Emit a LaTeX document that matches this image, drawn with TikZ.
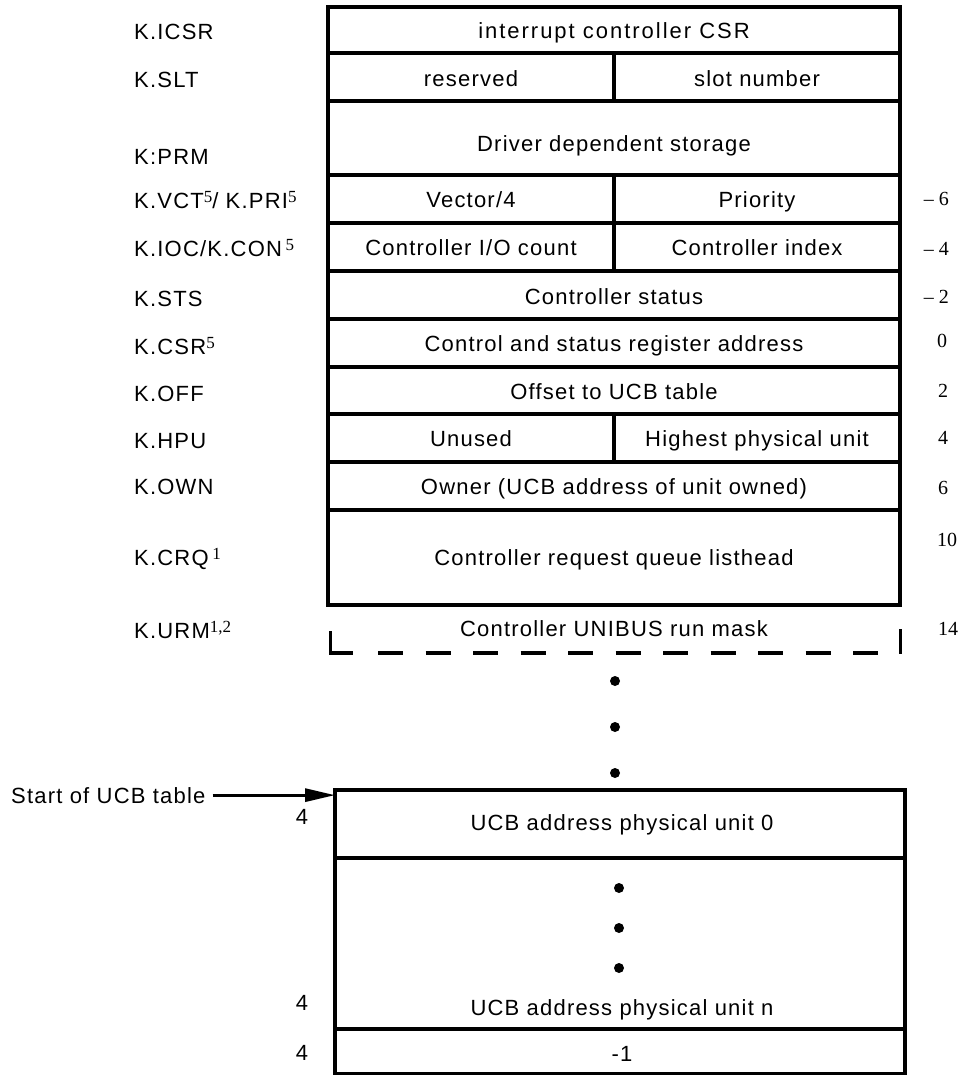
\documentclass[tikz,border=0pt]{standalone}
\usepackage{fontspec}
\setmainfont{Liberation Sans}
\newfontfamily\txtfont[LetterSpace=5.5]{Liberation Sans}
\newfontfamily\widefont[LetterSpace=9]{Liberation Sans}
\newfontfamily\numfont{Liberation Serif}
\usetikzlibrary{arrows.meta}
% raised serif index after a field symbol
\newcommand{\supnum}[1]{\raisebox{6pt}{\numfont\fontsize{17}{17}\selectfont #1}}

\begin{document}
\begin{tikzpicture}[x=1pt,y=-1pt,
  frame/.style={line width=3.4pt},
  cell/.style={anchor=base,inner sep=0pt,font=\txtfont\fontsize{22}{25}\selectfont},
  lab/.style={anchor=base west,inner sep=0pt,font=\txtfont\fontsize{22}{25}\selectfont},
  off/.style={anchor=base,inner sep=0pt,font=\numfont\fontsize{20}{23}\selectfont},
  offe/.style={anchor=base east,inner sep=0pt,font=\numfont\fontsize{20}{23}\selectfont},
  dot/.style={fill=black},
  arr/.style={line width=3pt,-{Triangle[length=30pt,width=13pt]}}]

\fill[white] (0,0) rectangle (963,1076);
\useasboundingbox (0,0) rectangle (963,1076);

% controller table block
\draw[frame] (328,7) rectangle (900,605);
\foreach \yy in {53,101,175,223,271,319,367,414,462,510}
  \draw[frame] (328,\yy) -- (900,\yy);
\draw[frame] (614,53) -- (614,101);
\draw[frame] (614,175) -- (614,271);
\draw[frame] (614,414) -- (614,462);

% optional UNIBUS run mask word
\draw[frame] (330.7,631) -- (330.7,653) -- (353,653);
\draw[frame,dash pattern=on 25pt off 22.5pt] (378,653) -- (878,653);
\draw[frame] (900.7,629) -- (900.7,654);

% field contents
\node[cell,font=\widefont\fontsize{22}{25}\selectfont] (icsr) at (614,38) {interrupt controller CSR};
\node[cell] (resv) at (471,86) {reserved};
\node[cell] (slot) at (757,86) {slot number};
\node[cell] (drv)  at (614,151) {Driver dependent storage};
\node[cell] (vec)  at (471,207) {Vector/4};
\node[cell] (pri)  at (757,207) {Priority};
\node[cell] (ioc)  at (471,255) {Controller I/O count};
\node[cell] (cidx) at (757,255) {Controller index};
\node[cell] (sts)  at (614,304) {Controller status};
\node[cell] (csr)  at (614,351) {Control and status register address};
\node[cell] (offs) at (614,399) {Offset to UCB table};
\node[cell] (unu)  at (471,446) {Unused};
\node[cell] (hpu)  at (757,446) {Highest physical unit};
\node[cell] (own)  at (614,494) {Owner (UCB address of unit owned)};
\node[cell] (crq)  at (614,565) {Controller request queue listhead};
\node[cell] (urm)  at (614,636) {Controller UNIBUS run mask};

% symbolic offsets
\node[lab] (kicsr) at (134,39) {K.ICSR};
\node[lab] (kslt)  at (134,87) {K.SLT};
\node[lab] (kprm)  at (134,164) {K:PRM};
\node[lab] (kvct)  at (134,208) {K.VCT\supnum{5}/ K.PRI\supnum{5}};
\node[lab] (kioc)  at (134,256) {K.IOC/K.CON\,\supnum{5}};
\node[lab] (ksts)  at (134,306) {K.STS};
\node[lab] (kcsr)  at (134,354) {K.CSR\supnum{5}};
\node[lab] (koff)  at (134,401) {K.OFF};
\node[lab] (khpu)  at (134,448) {K.HPU};
\node[lab] (kown)  at (134,494) {K.OWN};
\node[lab] (kcrq)  at (134,565) {K.CRQ\,\supnum{1}};
\node[lab] (kurm)  at (134,638) {K.URM\supnum{1,2}};

% byte offsets
\node[offe] (om6) at (949,205) {– 6};
\node[offe] (om4) at (949,255) {– 4};
\node[offe] (om2) at (949,303) {– 2};
\node[off] (o0)  at (942,347) {0};
\node[off] (o2)  at (943,397) {2};
\node[off] (o4)  at (943,444) {4};
\node[off] (o6)  at (943,494) {6};
\node[off] (o10) at (947,546) {10};
\node[off] (o14) at (948,635) {14};

% continuation dots
\fill[dot] (615,681) circle[radius=5pt];
\fill[dot] (615,727) circle[radius=5pt];
\fill[dot] (615,773) circle[radius=5pt];

% UCB table
\draw[frame] (335,790) rectangle (905,1073.5);
\draw[frame] (335,858) -- (905,858);
\draw[frame] (335,1029) -- (905,1029);
\coordinate (ucbtop) at (335,790);

\node[cell] (ucb0) at (622,830) {UCB address physical unit 0};
\fill[dot] (619,888) circle[radius=5pt];
\fill[dot] (619,928) circle[radius=5pt];
\fill[dot] (619,968) circle[radius=5pt];
\node[cell] (ucbn) at (622,1015) {UCB address physical unit n};
\node[cell] (term) at (622,1061) {-1};

\node[cell] (w0) at (302,824) {4};
\node[cell] (wn) at (302,1010) {4};
\node[cell] (wt) at (302,1060) {4};

\node[lab] (start) at (11,803) {Start of UCB table};
\draw[arr] ([xshift=7pt]start.east) -- (start.east -| ucbtop);
\end{tikzpicture}
\end{document}
